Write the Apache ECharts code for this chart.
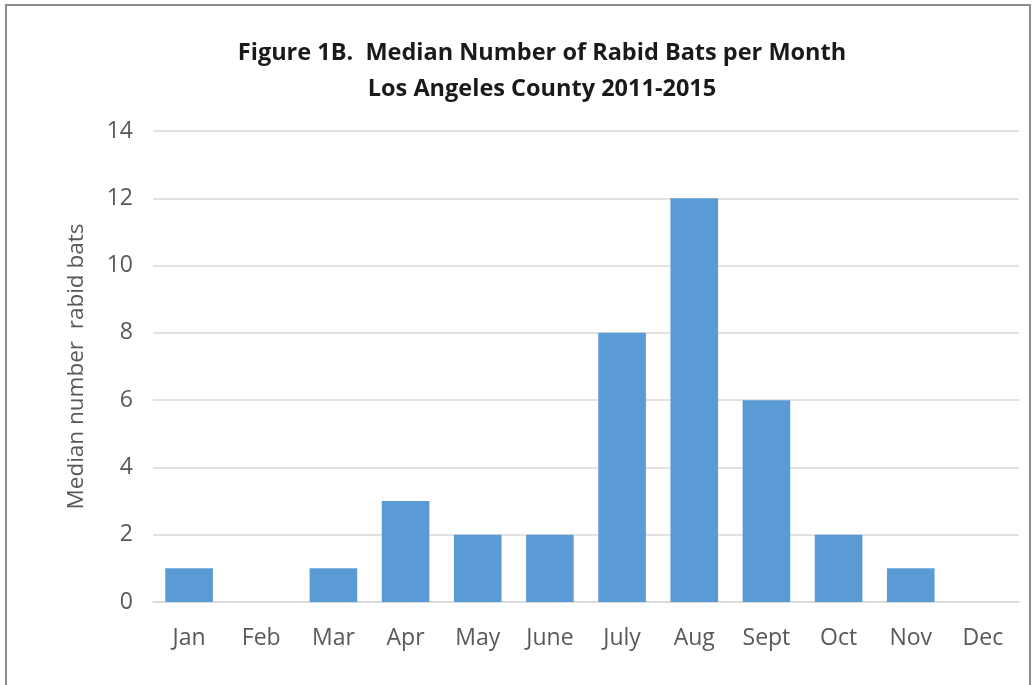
<!DOCTYPE html>
<html>
<head>
<meta charset="utf-8">
<script src="https://cdn.jsdelivr.net/npm/echarts@6/dist/echarts.min.js"></script>
<style>
  html, body { margin: 0; padding: 0; background: #fff; }
  #chart { width: 1034px; height: 685px; }
</style>
</head>
<body>
<div id="chart"></div>
<script>
// ===== Rabid bats per month =====
var months = ['Jan', 'Feb', 'Mar', 'Apr', 'May', 'June', 'July', 'Aug', 'Sept', 'Oct', 'Nov', 'Dec'];
var medianBats = [1, 0, 1, 3, 2, 2, 8, 12, 6, 2, 1, 0];
var yTicks = [0, 2, 4, 6, 8, 10, 12, 14];

var font = '"Open Sans", "Liberation Sans", sans-serif';
var muted = '#595959';
var rule = '#d9d9d9';

var chart = echarts.init(document.getElementById('chart'), null, { renderer: 'canvas' });
chart.setOption({
  animation: false,
  textStyle: { fontFamily: font },
  graphic: [{
    type: 'rect',
    shape: { x: 6, y: 5, width: 1024, height: 700 },
    style: { fill: 'none', stroke: '#8c8c8c', lineWidth: 2 },
    silent: true
  }],
  title: {
    text: 'Figure 1B.  Median Number of Rabid Bats per Month\nLos Angeles County 2011-2015',
    left: 537,
    top: 30,
    textAlign: 'center',
    textStyle: { fontFamily: font, fontSize: 23.5, fontWeight: 'bold', color: '#1a1a1a', lineHeight: 36 }
  },
  grid: { left: 153, right: 15, top: 131, bottom: 83, containLabel: false },
  xAxis: {
    type: 'category',
    data: months,
    axisLine: { show: true, lineStyle: { color: rule, width: 1.5 } },
    axisTick: { show: false },
    axisLabel: { color: muted, fontSize: 23, margin: 25, fontFamily: font }
  },
  yAxis: {
    type: 'value',
    min: yTicks[0],
    max: yTicks[yTicks.length - 1],
    interval: yTicks[1] - yTicks[0],
    name: 'Median number  rabid bats',
    nameLocation: 'middle',
    nameGap: 65,
    nameTextStyle: { color: muted, fontSize: 22.5, fontFamily: font },
    axisLine: { show: false },
    axisTick: { show: false },
    splitLine: { lineStyle: { color: rule, width: 1.5 } },
    axisLabel: { color: muted, fontSize: 23, margin: 20, fontFamily: font }
  },
  series: [{
    type: 'bar',
    data: medianBats,
    barCategoryGap: '34%',
    itemStyle: { color: '#5b9bd5' }
  }]
});
</script>
</body>
</html>
